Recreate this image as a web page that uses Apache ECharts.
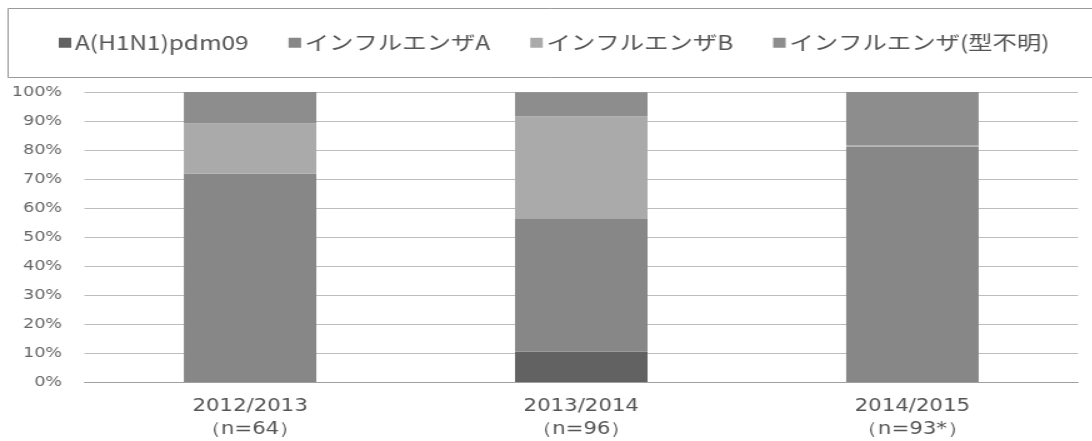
<!DOCTYPE html>
<html>
<head>
<meta charset="utf-8">
<script src="https://cdn.jsdelivr.net/npm/echarts@6/dist/echarts.min.js"></script>
<style>
  html, body { margin: 0; padding: 0; background: #fff; overflow: hidden; }
  #wrap { width: 1092px; height: 441px; overflow: hidden; }
  #chart { width: 874px; height: 441px; transform: scaleX(1.25); transform-origin: 0 0; }
</style>
</head>
<body>
<div id="wrap"><div id="chart"></div></div>
<script>
// Seasons and sample sizes
const seasons = ['2012/2013', '2013/2014', '2014/2015'];
const sampleSizes = ['（n=64）', '（n=96）', '（n=93*）'];

// Share of each type per season (%)
const h1n1pdm09 = [0, 10.4, 0];
const influenzaA = [71.9, 45.8, 81.2];
const influenzaB = [17.2, 35.4, 0.4];
const influenzaUnknown = [10.9, 8.3, 18.4];

const seriesNames = ['A(H1N1)pdm09', 'インフルエンザA', 'インフルエンザB', 'インフルエンザ(型不明)'];
const seriesColors = ['#626262', '#878787', '#aaaaaa', '#8d8d8d'];
const yTicks = ['0%', '10%', '20%', '30%', '40%', '50%', '60%', '70%', '80%', '90%', '100%'];

const categories = seasons.map((s, i) => s + '\n' + sampleSizes[i]);
const values = [h1n1pdm09, influenzaA, influenzaB, influenzaUnknown];

const chart = echarts.init(document.getElementById('chart'));
const latin = 'DejaVu Sans';
const jp = '"Noto Sans CJK JP", "DejaVu Sans"';

chart.setOption({
  animation: false,
  backgroundColor: '#fff',
  graphic: [{
    type: 'rect',
    shape: { x: 6.5, y: 8.5, width: 900, height: 69 },
    style: { fill: 'none', stroke: '#9a9a9a', lineWidth: 1 },
    silent: true
  }],
  legend: {
    left: 42,
    top: 28,
    itemWidth: 10,
    itemHeight: 10,
    itemGap: 32,
    icon: 'rect',
    textStyle: { color: '#555', fontSize: 19.5, fontFamily: jp, padding: [0, 0, 0, -2] },
    data: seriesNames
  },
  grid: { left: 67.6, right: 11.6, top: 92, bottom: 57 },
  xAxis: {
    type: 'category',
    data: categories,
    axisTick: { show: false },
    axisLine: { lineStyle: { color: '#a0a0a0' } },
    axisLabel: {
      color: '#555',
      fontFamily: latin,
      fontSize: 17,
      lineHeight: 23,
      margin: 13
    }
  },
  yAxis: {
    type: 'value',
    min: 0,
    max: 100,
    interval: 10,
    axisLine: { show: false },
    axisTick: { show: false },
    splitLine: { lineStyle: { color: '#bdbdbd', width: 1 } },
    axisLabel: {
      color: '#666',
      fontFamily: latin,
      fontSize: 14,
      margin: 18,
      formatter: v => yTicks[Math.round(v / 10)]
    }
  },
  series: values.map((d, i) => ({
    name: seriesNames[i],
    type: 'bar',
    stack: 'total',
    barWidth: '40%',
    itemStyle: { color: seriesColors[i] },
    data: d
  }))
});
</script>
</body>
</html>
